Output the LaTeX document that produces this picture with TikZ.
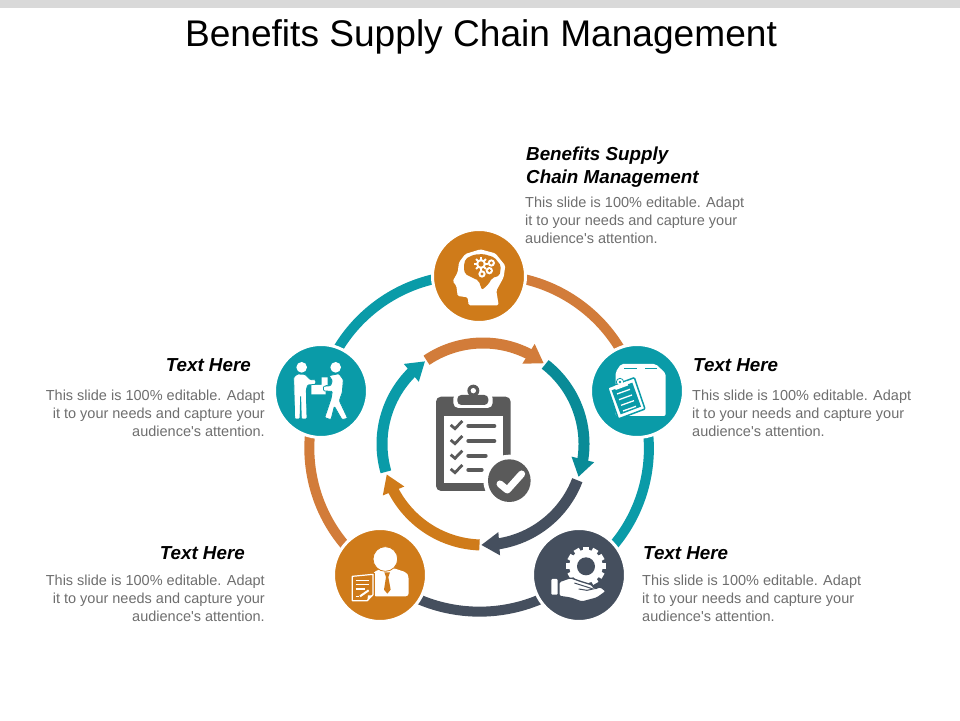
\documentclass[tikz,border=0pt]{standalone}
\usepackage{fontspec}
\setmainfont{Liberation Sans}
\usetikzlibrary{arrows.meta,bending,backgrounds}
\definecolor{ochre}{HTML}{CF7B1A}
\definecolor{clay}{HTML}{D27C3A}
\definecolor{teal}{HTML}{0A9BA8}
\definecolor{slate}{HTML}{454F5E}
\definecolor{iconGray}{HTML}{5A5A5A}
\definecolor{bodyGray}{HTML}{6E6E6E}
\tikzset{
  ringnode/.style={circle, fill=#1, draw=white, line width=3pt, minimum size=93pt, inner sep=0pt},
  outerarc/.style={draw=#1, line width=10pt},
  innerarc/.style={draw=#1, line width=11pt, -{Triangle[width=22pt,length=18pt,flex]}},
  headtext/.style={font=\fontsize{18.8}{23}\selectfont\bfseries\itshape, text=black, inner sep=0pt},
  bodytext/.style={font=\fontsize{14.5}{18}\selectfont, text=bodyGray, inner sep=0pt},
  icon/.style={x=0.3333pt, y=-0.3333pt, shift={(#1)}}
}
\newcommand{\blurb}{This slide is 100\% editable. Adapt\\it to your needs and capture your\\audience\textquotesingle s attention.}
% small cog: centre, body radius, tooth radius, teeth, tooth width
\newcommand{\cogwheel}[5]{
  \fill (#1) circle (#2);
  \foreach \t in {1,...,#4}
    \draw[line width=#5, line cap=butt] (#1) ++({\t*360/#4}:#2*0.8) -- ++({\t*360/#4}:#3-#2*0.8);
}
\begin{document}
\begin{tikzpicture}[x=1pt, y=1pt]
  \useasboundingbox (0,0) rectangle (960,720);
  \fill[black!15] (0,712) rectangle (960,720);

  % Title
  \node[font=\fontsize{37.1}{40}\selectfont, text=black, inner sep=0pt] (title) at (481,683) {Benefits Supply Chain Management};

  % Outer ring
  \node[ringnode=ochre] (brain) at (479,444) {};
  \node[ringnode=teal] (box) at (637,329) {};
  \node[ringnode=slate] (hand) at (579,145) {};
  \node[ringnode=ochre] (doc) at (380,145) {};
  \node[ringnode=teal] (people) at (321,329) {};
  \begin{scope}[on background layer]
    \draw[outerarc=clay] (brain.center) to[bend left=41, looseness=0.96] (box.center);
    \draw[outerarc=teal] (box.center) to[bend left=41, looseness=0.96] (hand.center);
    \draw[outerarc=slate] (hand.center) to[bend left=41, looseness=0.96] (doc.center);
    \draw[outerarc=clay] (doc.center) to[bend left=41, looseness=0.96] (people.center);
    \draw[outerarc=teal] (people.center) to[bend left=41, looseness=0.96] (brain.center);
  \end{scope}

  % Inner ring
  \coordinate (hub) at (483,276);
  \foreach \a/\b/\c in {124/53/clay, 52/-19/teal!90!black, -21/-91/slate, -92/-162.5/ochre, -164/-235/teal}
    \draw[innerarc=\c] (hub) ++(\a:101) arc[start angle=\a, end angle=\b, radius=101];

  % Labels
  \node[headtext, anchor=north west, align=left] (head1) at (526,573) {Benefits Supply\\Chain Management};
  \node[bodytext, anchor=north west, align=left] (body1) at (525,523) {\blurb};
  \node[headtext, anchor=west] (head2) at (693,355) {Text Here};
  \node[bodytext, anchor=north west, align=left] (body2) at (692,330) {\blurb};
  \node[headtext, anchor=west] (head3) at (643,167) {Text Here};
  \node[bodytext, anchor=north west, align=left] (body3) at (642,145) {\blurb};
  \node[headtext, anchor=east] (head4) at (245,167) {Text Here};
  \node[bodytext, anchor=north east, align=right] (body4) at (265,145) {\blurb};
  \node[headtext, anchor=east] (head5) at (251,355) {Text Here};
  \node[bodytext, anchor=north east, align=right] (body5) at (265,330) {\blurb};

  % Checklist in the middle
  \begin{scope}[icon={370pt,390pt}]
    \fill[iconGray, rounded corners=5pt] (198,200) rectangle (422,483);
    \fill[white] (222,258) rectangle (400,460);
    \fill[white, rounded corners=5pt] (250,190) rectangle (368,234);
    \fill[iconGray] (310,182) circle (18);
    \fill[iconGray, rounded corners=4pt] (262,195) rectangle (355,225);
    \fill[white] (310,182) circle (8);
    \foreach \y/\e in {288/378, 333/378, 377/352, 420/340} {
      \draw[iconGray, line width=2.8pt] (242,\y-3) -- (255,\y+8) -- (277,\y-15);
      \draw[iconGray, line width=4pt, line cap=round] (295,\y) -- (\e-5,\y);
    }
    \fill[white] (418,452) circle (78);
    \fill[iconGray] (418,452) circle (64);
    \draw[white, line width=7pt, line cap=round, line join=round] (390,462) -- (412,480) -- (455,432);
  \end{scope}

  % Brain
  \begin{scope}[icon={437pt,486pt}]
    \fill[white, rounded corners=1.5pt] (95,214) -- (92,190) -- (62,186) -- (58,155) -- (47,142) -- (62,115)
      -- (66,85) -- (85,60) -- (130,46) -- (175,58) -- (205,95) -- (200,130) -- (178,170) -- (185,214) -- cycle;
    \fill[ochre, rounded corners=2pt] (80,100) -- (85,75) -- (110,62) -- (140,60) -- (172,70) -- (192,95)
      -- (188,125) -- (165,132) -- (155,150) -- (135,168) -- (125,140) -- (100,128) -- (84,120) -- cycle;
    \begin{scope}[white]
      \cogwheel{132,90}{15}{21}{8}{2pt}
      \fill (163,87) circle (11);
      \fill (157,110) circle (11);
      \fill (135,120) circle (11);
    \end{scope}
    \fill[ochre] (132,90) circle (8) (163,87) circle (5) (157,110) circle (5) (135,120) circle (5);
  \end{scope}

  % Carton with clipboard
  \begin{scope}[icon={595pt,370pt}]
    \fill[white, rounded corners=2pt] (78,42) -- (182,42) -- (212,70) -- (212,198) -- (62,198) -- (62,66) -- cycle;
    \draw[teal, line width=1.3pt] (88,55) -- (125,55) (150,55) -- (185,55);
    \fill[white, draw=teal, line width=1.5pt, rounded corners=1pt] (38,113) -- (118,83) -- (150,177) -- (70,207) -- cycle;
    \fill[teal] (50,121) -- (112,98) -- (138,170) -- (77,193) -- cycle;
    \fill[white, draw=teal, line width=0.8pt] (75,96) circle (11);
    \fill[white] (58,108) -- (95,94) -- (100,106) -- (62,120) -- cycle;
    \fill[teal] (75,96) circle (4);
    \foreach \s in {0,1,2,3}
      \draw[white, line width=1.3pt] ({66+\s*6},{132+\s*17}) -- ++(39,-14);
  \end{scope}

  % Hand with cog
  \begin{scope}[icon={537pt,187pt}]
    \begin{scope}[white]
      \cogwheel{147,100}{50}{59}{12}{6pt}
    \end{scope}
    \fill[slate] (147,100) circle (27);
    \fill[white, rounded corners=1pt] (43,138) rectangle (62,185);
    \fill[white, draw=slate, line width=1.3pt, rounded corners=1.5pt] (66,146) -- (100,134) -- (130,145) -- (166,156) -- (172,168)
      -- (190,161) -- (208,175) -- (180,195) -- (135,207) -- (100,195) -- (66,190) -- cycle;
    \draw[slate, line width=1pt] (112,150) -- (150,162) -- (168,168) -- (150,172) -- (125,168);
  \end{scope}

  % Man with sheet
  \begin{scope}[icon={338pt,187pt}]
    \fill[white, rounded corners=3pt] (105,190) -- (105,118) -- (135,105) -- (165,105) -- (205,118) -- (212,130) -- (212,190) -- cycle;
    \fill[white, draw=ochre, line width=0.8pt] (142,78) circle (37);
    \fill[ochre] (139,118) -- (156,118) -- (151,132) -- (158,170) -- (148,182) -- (138,170) -- (144,132) -- cycle;
    \fill[ochre] (36,120) rectangle (112,210);
    \draw[white, line width=1.2pt, line join=round, fill=ochre] (43,130) -- (105,124) -- (105,185) -- (88,203) -- (43,203) -- cycle;
    \draw[white, line width=1.3pt] (53,142) -- (92,142) (53,155) -- (92,155) (53,168) -- (80,168) (53,190) -- (62,190);
    \draw[white, line width=2pt] (66,190) -- (92,172);
    \fill[white] (88,203) -- (105,187) -- (90,187) -- cycle;
  \end{scope}

  % Two men passing a parcel
  \begin{scope}[icon={279pt,371pt}]
    \fill[white] (97,108) rectangle (140,136) (128,85) rectangle (146,108);
    \fill[white] (68,55) circle (16) (170,55) circle (16);
    \fill[white, draw=teal, line width=0.8pt, rounded corners=1pt] (44,85) -- (55,75) -- (78,76) -- (94,92) -- (110,92) -- (110,106)
      -- (86,108) -- (82,122) -- (84,210) -- (67,210) -- (65,140) -- (63,210) -- (47,210) -- cycle;
    \fill[white, draw=teal, line width=0.8pt, rounded corners=1pt] (150,80) -- (180,74) -- (193,92) -- (190,130) -- (181,155) -- (206,208) -- (189,212)
      -- (166,172) -- (156,212) -- (137,206) -- (156,150) -- (160,127) -- (134,126) -- (133,112) -- (155,110) -- (160,95) -- cycle;
  \end{scope}
\end{tikzpicture}
\end{document}
